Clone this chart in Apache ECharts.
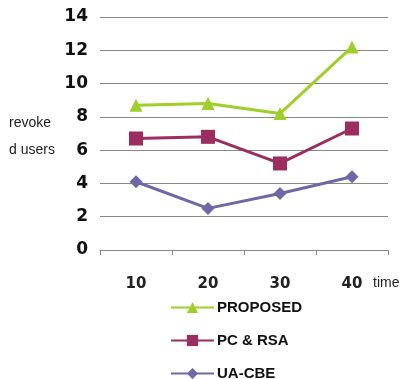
<!DOCTYPE html>
<html><head><meta charset="utf-8">
<script src="https://cdn.jsdelivr.net/npm/echarts@6/dist/echarts.min.js"></script>
<style>html,body{margin:0;padding:0;background:#fff}#c{width:402px;height:379px}</style>
</head><body><div id="c"></div>
<script>
const categories = ['10', '20', '30', '40'];
const proposed = [8.7, 8.8, 8.2, 12.2];
const pcRsa = [6.7, 6.8, 5.2, 7.3];
const uaCbe = [4.1, 2.5, 3.4, 4.4];
const yTicks = [0, 2, 4, 6, 8, 10, 12, 14];

const chart = echarts.init(document.getElementById('c'));
chart.setOption({
  animation: false,
  backgroundColor: '#fff',
  grid: {left: 100, right: 14, top: 17, bottom: 129, containLabel: false},
  xAxis: {
    type: 'category', data: categories, boundaryGap: true,
    axisLine: {lineStyle: {color: '#888', width: 1}},
    axisTick: {show: true, length: 5, lineStyle: {color: '#888'}},
    axisLabel: {margin: 27, color: '#222', fontWeight: 'bold', fontSize: 15, fontFamily: 'DejaVu Sans'},
  },
  yAxis: {
    type: 'value', min: yTicks[0], max: yTicks[yTicks.length-1], interval: 2,
    axisLine: {show: false}, axisTick: {show: false},
    splitLine: {lineStyle: {color: '#888', width: 1}},
    axisLabel: {margin: 12, color: '#111', fontWeight: 'bold', fontSize: 17, fontFamily: 'DejaVu Sans'}
  },
  legend: {
    orient: 'vertical', left: 170, top: 300, height: 100, padding: 0, itemGap: 18, itemWidth: 43, itemHeight: 14,
    textStyle: {fontSize: 15, lineHeight: 14, fontWeight: 'bold', color: '#111', fontFamily: 'Liberation Sans, Arial', padding: [0,0,0,-2]},
    data: ['PROPOSED', 'PC & RSA', 'UA-CBE']
  },
  graphic: [
    {type: 'text', left: 9, top: 116, style: {text: 'revoke', fontSize: 14, fill: '#222', fontFamily: 'Liberation Sans, Arial'}},
    {type: 'text', left: 9, top: 143, style: {text: 'd users', fontSize: 14, fill: '#222', fontFamily: 'Liberation Sans, Arial'}},
    {type: 'text', left: 373, top: 276, style: {text: 'time', fontSize: 14, fill: '#222', fontFamily: 'Liberation Sans, Arial'}}
  ],
  series: [
    {name: 'PROPOSED', type: 'line', data: proposed, symbol: 'triangle', symbolSize: 13,
     lineStyle: {color: '#9fcf2a', width: 3}, itemStyle: {color: '#9fcf2a'}},
    {name: 'PC & RSA', type: 'line', data: pcRsa, symbol: 'rect', symbolSize: 14,
     lineStyle: {color: '#9c2d60', width: 3}, itemStyle: {color: '#9c2d60'}},
    {name: 'UA-CBE', type: 'line', data: uaCbe, symbol: 'diamond', symbolSize: 13,
     lineStyle: {color: '#6e69a6', width: 3}, itemStyle: {color: '#6e69a6'}}
  ]
});
</script></body></html>
